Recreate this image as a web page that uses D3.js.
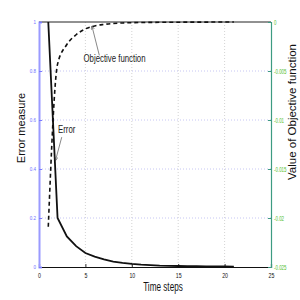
<!DOCTYPE html>
<html>
<head>
<meta charset="utf-8">
<script src="https://cdn.jsdelivr.net/npm/d3@7"></script>
<style>
  body { margin: 0; background: #fff; }
  svg text { font-family: "Liberation Sans Narrow", "Arial Narrow", "Liberation Sans", sans-serif; }
</style>
</head>
<body>
<div id="chart"></div>
<script>
// time steps 1..21
var steps = d3.range(1, 22);
var errorVals = [1, 0.2, 0.125, 0.085, 0.057, 0.042, 0.031, 0.022, 0.017, 0.013,
                 0.010, 0.008, 0.006, 0.005, 0.004, 0.0035, 0.003, 0.0025, 0.002, 0.002, 0.0015];
var objVals = [-0.0209, -0.0043, -0.0023, -0.0013, -0.0007, -0.0004, -0.00025, -0.00015,
               -0.0001, -0.00007, -0.00005, -0.00004, -0.00003, -0.00002, -0.00002,
               -0.00001, -0.00001, -0.00001, 0, 0, 0];
var xTicks = [0, 5, 10, 15, 20, 25];
var yLeftTicks = [0, 0.2, 0.4, 0.6, 0.8, 1];
var yRightTicks = [0, -0.005, -0.01, -0.015, -0.02, -0.025];

var margin = {top: 22, right: 29, bottom: 33, left: 39},
    fullWidth = 300, fullHeight = 300,
    width = fullWidth - margin.left - margin.right,
    height = fullHeight - margin.top - margin.bottom;

var svg = d3.select("#chart").append("svg")
    .attr("width", fullWidth)
    .attr("height", fullHeight);

var g = svg.append("g")
    .attr("transform", "translate(" + margin.left + "," + margin.top + ")");

var x = d3.scaleLinear().domain([0, 25]).range([0, width]);
var yL = d3.scaleLinear().domain([0, 1]).range([height, 0]);
var yR = d3.scaleLinear().domain([-0.025, 0]).range([height, 0]);

// squeeze text to look like a narrow font
function narrow(sel, factor) {
  sel.each(function() {
    var w = this.getComputedTextLength();
    d3.select(this).attr("textLength", w * factor).attr("lengthAdjust", "spacingAndGlyphs");
  });
}

// grid
g.selectAll(".vgrid")
    .data(xTicks.slice(1, -1))
    .enter().append("line")
    .attr("x1", x).attr("x2", x)
    .attr("y1", 0).attr("y2", height)
    .attr("stroke", "#c8c8c8")
    .attr("stroke-width", 0.8)
    .attr("stroke-dasharray", "1,2");

g.selectAll(".hgrid")
    .data(yLeftTicks.slice(1, -1))
    .enter().append("line")
    .attr("x1", 0).attr("x2", width)
    .attr("y1", yL).attr("y2", yL)
    .attr("stroke", "#b8b8f0")
    .attr("stroke-width", 0.8)
    .attr("stroke-dasharray", "1,2");

// frame top
g.append("line").attr("x1", 0).attr("x2", width).attr("y1", 0).attr("y2", 0)
    .attr("stroke", "#222").attr("stroke-width", 1);

// x axis
var xAxis = g.append("g")
    .attr("transform", "translate(0," + height + ")")
    .call(d3.axisBottom(x).tickValues(xTicks).tickSize(-3).tickPadding(6).tickFormat(d3.format("d")));
xAxis.select(".domain").attr("stroke", "#111").attr("stroke-width", 1.2);
xAxis.selectAll(".tick line").attr("stroke", "#333");
xAxis.selectAll("text").attr("font-size", 7).attr("fill", "#111").call(narrow, 0.75);

// left axis
var leftAxis = g.append("g")
    .call(d3.axisLeft(yL).tickValues(yLeftTicks).tickSize(-3).tickPadding(3)
      .tickFormat(function(d) { return d === 0 || d === 1 ? d3.format("d")(d) : d3.format(".1f")(d); }));
leftAxis.select(".domain").attr("stroke", "#9a9aff").attr("stroke-width", 2);
leftAxis.selectAll(".tick line").attr("stroke", "#7a7aff");
leftAxis.selectAll("text").attr("font-size", 6).attr("fill", "#7070ff").call(narrow, 0.75);

// right axis
var rightAxis = g.append("g")
    .attr("transform", "translate(" + width + ",0)")
    .call(d3.axisRight(yR).tickValues(yRightTicks).tickSize(-3).tickPadding(3)
      .tickFormat(function(d) { return d === 0 ? "0" : String(d); }));
rightAxis.select(".domain").attr("stroke", "#3d9b82").attr("stroke-width", 1.2);
rightAxis.selectAll(".tick line").attr("stroke", "#3d9b82");
rightAxis.selectAll("text").attr("font-size", 6.5).attr("fill", "#55c030").call(narrow, 0.68);

// lines
var errLine = d3.line()
    .x(function(d, i) { return x(steps[i]); })
    .y(function(d) { return yL(d); });
var objLine = d3.line()
    .x(function(d, i) { return x(steps[i]); })
    .y(function(d) { return yR(d); })
    .curve(d3.curveMonotoneX);

g.append("path")
    .datum(objVals)
    .attr("fill", "none")
    .attr("stroke", "#111")
    .attr("stroke-width", 1.6)
    .attr("stroke-dasharray", "4,3")
    .attr("d", objLine);

g.append("path")
    .datum(errorVals)
    .attr("fill", "none")
    .attr("stroke", "#111")
    .attr("stroke-width", 1.8)
    .attr("d", errLine);

// annotations
svg.append("defs").append("marker")
    .attr("id", "arrow")
    .attr("viewBox", "0 0 10 10")
    .attr("refX", 9).attr("refY", 5)
    .attr("markerWidth", 6).attr("markerHeight", 6)
    .attr("orient", "auto")
  .append("path")
    .attr("d", "M0,1 L10,5 L0,9")
    .attr("fill", "none")
    .attr("stroke", "#333")
    .attr("stroke-width", 1.2);

g.append("line")
    .attr("x1", x(6.5)).attr("y1", yR(-0.0034))
    .attr("x2", x(5.7)).attr("y2", yR(-0.0004))
    .attr("stroke", "#555").attr("stroke-width", 0.7)
    .attr("marker-end", "url(#arrow)");
g.append("text")
    .attr("x", x(4.8)).attr("y", yR(-0.0041))
    .attr("font-size", 10)
    .attr("fill", "#222")
    .text("Objective function")
    .call(narrow, 0.78);

g.append("line")
    .attr("x1", x(2.45)).attr("y1", yL(0.53))
    .attr("x2", x(1.78)).attr("y2", yL(0.435))
    .attr("stroke", "#555").attr("stroke-width", 0.7)
    .attr("marker-end", "url(#arrow)");
g.append("text")
    .attr("x", x(2.05)).attr("y", yL(0.545))
    .attr("font-size", 10)
    .attr("fill", "#222")
    .text("Error")
    .call(narrow, 0.78);

// axis titles
svg.append("text")
    .attr("x", margin.left + width / 2 + 8)
    .attr("y", 291)
    .attr("text-anchor", "middle")
    .attr("font-size", 12)
    .attr("fill", "#111")
    .text("Time steps")
    .call(narrow, 0.68);

svg.append("text")
    .attr("transform", "translate(25,128) rotate(-90)")
    .attr("text-anchor", "middle")
    .style("font-family", "'Liberation Sans', Arial, sans-serif")
    .attr("font-size", 11)
    .attr("fill", "#111")
    .text("Error measure");

svg.append("text")
    .attr("transform", "translate(296,112) rotate(-90)")
    .attr("text-anchor", "middle")
    .style("font-family", "'Liberation Sans', Arial, sans-serif")
    .attr("font-size", 11.5)
    .attr("fill", "#111")
    .text("Value of Objective function");
</script>
</body>
</html>
